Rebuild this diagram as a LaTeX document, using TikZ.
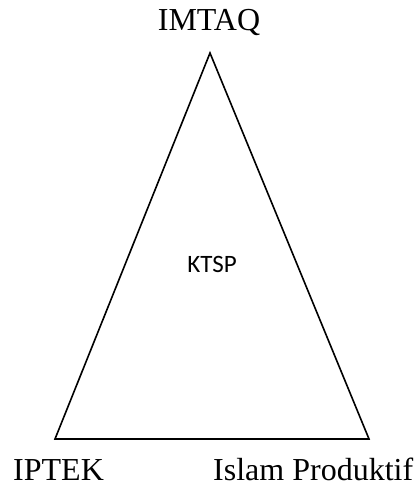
\documentclass[tikz,border=0pt]{standalone}
\usepackage{fontspec}
\setmainfont{Liberation Serif}
\newfontfamily\ktspfont{Carlito}
\usetikzlibrary{positioning}

\begin{document}
\begin{tikzpicture}[x=1pt, y=-1pt,
  lbl/.style  = {inner sep=0pt, font=\fontsize{32}{38}\selectfont},
  mid/.style  = {inner sep=0pt, font=\ktspfont\fontsize{25}{30}\selectfont},
  edge/.style = {line width=1.6pt, line join=miter}
]
\useasboundingbox (0,0) rectangle (417,486);

%% --- Corners ---
\coordinate (top)   at (210,53);
\coordinate (left)  at (55,439);
\coordinate (right) at (369,439);

%% --- Triangle ---
\draw[edge] (top) -- (left) -- (right) -- cycle;

%% --- Labels ---
\node[lbl, anchor=base]      (imtaq) at (209,31)  {IMTAQ};
\node[mid, anchor=base]      (ktsp)  at (212,272) {KTSP};
\node[lbl, anchor=base west] (iptek) at (13,480)  {IPTEK};
\node[lbl, anchor=base west] (islam) at (213,480) {Islam Produktif};
\end{tikzpicture}
\end{document}
